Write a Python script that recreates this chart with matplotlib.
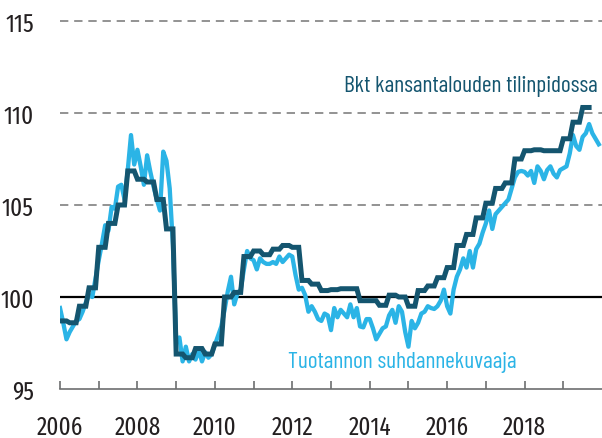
import numpy as np
import matplotlib.pyplot as plt

plt.rcParams['font.family'] = ['Fira Sans Extra Condensed', 'DejaVu Sans']
labelFont = ['Barlow Condensed', 'Fira Sans Extra Condensed', 'DejaVu Sans']

darkColor = "#14556f"
lightColor = "#2bb4e6"

# Tuotannon suhdannekuvaaja, monthly from Jan 2006
trendVal = [
    99.4, 98.6, 97.7, 98.1, 98.4, 98.7, 98.8, 99.2, 99.7, 100.1, 100.0, 101.0,
    102.0, 102.9, 103.9, 103.6, 104.9, 104.8, 106.0, 106.1, 105.3, 106.9, 108.8, 107.2,
    108.0, 107.1, 106.1, 107.7, 106.8, 106.0, 105.3, 104.7, 107.9, 107.4, 105.9, 102.8,
    97.6, 97.8, 96.5, 97.3, 96.5, 96.9, 96.6, 97.1, 96.5, 97.0, 96.7, 96.9,
    97.4, 97.9, 98.4, 99.3, 100.3, 101.1, 99.6, 100.2, 100.4, 101.5, 102.5, 102.1,
    102.0, 101.5, 102.1, 101.9, 101.8, 101.8, 101.9, 101.8, 102.2, 101.9, 102.1, 102.3,
    102.2, 101.2, 100.4, 100.5, 100.1, 99.2, 99.5, 99.2, 98.8, 98.7, 99.1, 99.0,
    98.2, 99.4, 98.9, 99.3, 99.1, 98.9, 99.6, 98.9, 99.4, 98.4, 98.35, 98.8,
    98.8, 98.3, 97.7, 98.0, 98.3, 98.4, 99.0, 99.3, 98.6, 99.5, 99.2, 98.1,
    97.3, 98.7, 98.3, 98.6, 99.1, 99.2, 99.5, 99.4, 99.35, 99.5, 99.8, 100.4,
    99.5, 99.1, 100.4, 101.1, 101.5, 102.1, 101.6, 102.5, 101.6, 102.6, 102.9, 103.5,
    104.0, 104.7, 103.7, 104.5, 104.7, 104.9, 105.1, 105.3, 105.9, 106.5, 106.8, 106.85,
    106.8, 106.6, 106.85, 106.2, 107.1, 106.85, 106.4, 106.9, 107.1, 106.7, 106.5, 106.9,
    107.0, 107.1, 107.8, 108.8, 108.2, 108.0, 108.7, 108.9, 109.4, 108.9, 108.6, 108.3,
]

# Bkt kansantalouden tilinpidossa, quarterly from 2006Q1
gdpVal = [
    98.7, 98.6, 99.5, 100.5,
    102.7, 104.0, 105.0, 106.85,
    106.4, 106.25, 105.3, 103.7,
    96.9, 96.7, 97.2, 96.9,
    97.45, 100.0, 100.25, 102.2,
    102.5, 102.3, 102.6, 102.8,
    102.7, 100.9, 100.7, 100.35,
    100.4, 100.45, 100.45, 99.8,
    99.8, 99.55, 100.1, 100.0,
    99.5, 100.35, 100.6, 101.05,
    101.6, 102.8, 103.4, 104.3,
    105.1, 105.9, 106.2, 107.5,
    107.95, 108.0, 107.95, 107.95,
    108.6, 109.5, 110.3,
]

yearTicks = list(range(2006, 2020))
yearLabels = ["2006", "", "2008", "", "2010", "", "2012", "", "2014", "", "2016", "", "2018", ""]
yTicks = [95, 100, 105, 110, 115]

trendX = 2006 + np.arange(len(trendVal)) / 12.0
gdpMonthly = np.repeat(gdpVal, 3)
gdpX = 2006 + np.arange(len(gdpMonthly)) / 12.0

fig = plt.figure(figsize=(6.02, 4.39), dpi=100)
ax = fig.add_axes([0.0997, 0.1116, 0.9003, 0.8383])
ax.patch.set_visible(False)

for y in [105, 110, 115]:
    ax.axhline(y, color="#808080", linewidth=1.2, linestyle=(0, (5, 3.5)), zorder=1, clip_on=False)
ax.axhline(100, color="black", linewidth=1.6, zorder=1)

ax.plot(trendX, trendVal, color=lightColor, linewidth=3.1, solid_joinstyle="round", zorder=2)
ax.plot(gdpX, gdpMonthly, color=darkColor, linewidth=3.6, solid_joinstyle="miter", zorder=3)

ax.text(2019.9, 111.5, "Bkt kansantalouden tilinpidossa", color=darkColor,
        fontsize=16.9, family=labelFont, ha="right", va="center")
ax.text(2011.9, 96.2, "Tuotannon suhdannekuvaaja", color=lightColor,
        fontsize=16.9, family=labelFont, ha="left", va="baseline")

ax.set_xlim(2006, 2020)
ax.set_ylim(95, 115)
ax.set_xticks(yearTicks)
ax.set_xticklabels(yearLabels)
ax.set_yticks(yTicks)

for side in ["top", "right", "left"]:
    ax.spines[side].set_visible(False)
ax.spines["bottom"].set_color("#6d6e70")
ax.spines["bottom"].set_linewidth(1.2)

ax.tick_params(axis="x", direction="in", length=6, width=1.2, color="#6d6e70",
               labelsize=18, pad=18, labelcolor="#231f20")
ax.tick_params(axis="y", length=0, labelsize=18, pad=19, labelcolor="#231f20")

fig.savefig("out.png", dpi=100)
